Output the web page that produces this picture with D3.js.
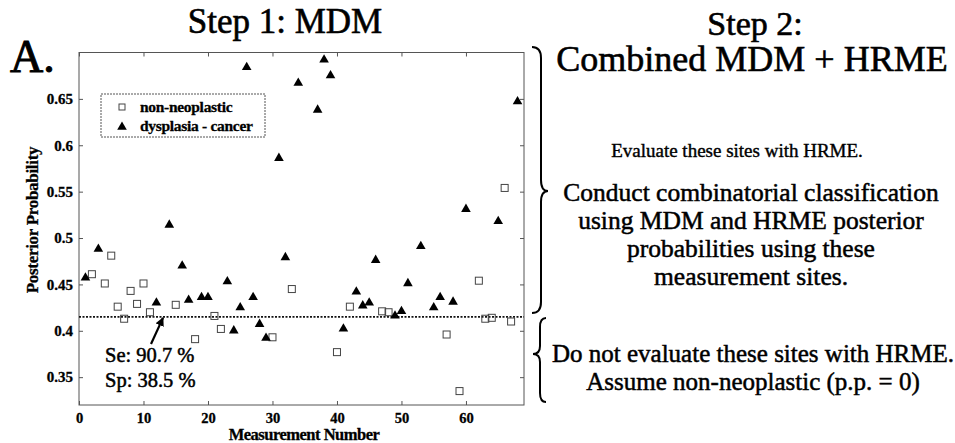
<!DOCTYPE html>
<html>
<head>
<meta charset="utf-8">
<script src="https://cdn.jsdelivr.net/npm/d3@7"></script>
<style>
  html, body { margin: 0; padding: 0; background: #fff; }
  svg { display: block; }
</style>
</head>
<body>
<svg id="chart" width="955" height="443"></svg>
<script>
// ---------- data ----------
const nonNeoX = [2, 4, 5, 6, 7, 8, 9, 10, 11, 15, 18, 21, 22, 30, 33, 40, 42, 47, 48, 57, 59, 62, 63, 64, 66, 67];
const nonNeoY = [0.461, 0.451, 0.481, 0.426, 0.413, 0.443, 0.429, 0.451, 0.420, 0.428, 0.391, 0.416, 0.402, 0.393, 0.445, 0.377, 0.426, 0.421, 0.420, 0.396, 0.335, 0.454, 0.413, 0.414, 0.554, 0.410];

const dysX = [1, 3, 12, 14, 16, 17, 19, 20, 23, 24, 25, 26, 27, 28, 29, 31, 32, 34, 37, 38, 39, 41, 43, 44, 45, 46, 49, 50, 51, 53, 55, 56, 58, 60, 65, 68];
const dysY = [0.458, 0.489, 0.431, 0.515, 0.471, 0.434, 0.437, 0.437, 0.454, 0.401, 0.426, 0.685, 0.437, 0.408, 0.393, 0.587, 0.480, 0.668, 0.639, 0.693, 0.676, 0.403, 0.443, 0.428, 0.431, 0.477, 0.417, 0.422, 0.452, 0.492, 0.426, 0.437, 0.432, 0.532, 0.519, 0.648];

const threshold = 0.415;
const xTicks = [0, 10, 20, 30, 40, 50, 60];
const yTicks = [0.35, 0.4, 0.45, 0.5, 0.55, 0.6, 0.65];
const yTickLabels = ["0.35", "0.4", "0.45", "0.5", "0.55", "0.6", "0.65"];
const seriesNames = ["non-neoplastic", "dysplasia - cancer"];

const step2Lines = ["Conduct combinatorial classification", "using MDM and HRME posterior", "probabilities using these", "measurement sites."];
const lowerLines = ["Do not evaluate these sites with HRME.", "Assume non-neoplastic (p.p. = 0)"];

// ---------- layout ----------
const FONT = "'Liberation Serif', 'Times New Roman', Tinos, 'DejaVu Serif', serif";
const svg = d3.select("#chart");
const L = 79, R = 524, T = 52.5, B = 405;
const x = d3.scaleLinear().domain([0, 69]).range([L, R]);
const y = d3.scaleLinear().domain([0.32, 0.70]).range([B, T]);

function txt(sel, heavy) {
  sel.style("font-family", FONT).attr("fill", "#000");
  if (heavy) sel.attr("stroke", "#000").attr("stroke-width", heavy).attr("paint-order", "stroke");
  return sel;
}

// frame
svg.append("rect").attr("x", L).attr("y", T).attr("width", R - L).attr("height", B - T)
  .attr("fill", "none").attr("stroke", "#555").attr("stroke-width", 1);

// axes (ticks inside)
const tickFmt = d => yTickLabels[yTicks.indexOf(d)];
const axL = svg.append("g").attr("transform", `translate(${L},0)`)
  .call(d3.axisLeft(y).tickValues(yTicks).tickSize(-4).tickPadding(6).tickFormat(tickFmt));
const axR = svg.append("g").attr("transform", `translate(${R},0)`)
  .call(d3.axisRight(y).tickValues(yTicks).tickSize(-4).tickFormat(""));
const axB = svg.append("g").attr("transform", `translate(0,${B})`)
  .call(d3.axisBottom(x).tickValues(xTicks).tickSize(-4).tickPadding(8).tickFormat(d3.format("d")));
const axT = svg.append("g").attr("transform", `translate(0,${T})`)
  .call(d3.axisTop(x).tickValues(xTicks).tickSize(-4).tickFormat(""));
[axL, axR, axB, axT].forEach(g => {
  g.select(".domain").remove();
  g.selectAll(".tick line").attr("stroke", "#555");
  txt(g.selectAll("text"), 0.3).attr("font-weight", "bold");
});
axL.selectAll("text").attr("font-size", 15);
axB.selectAll("text").attr("font-size", 14.5);

// threshold line
svg.append("line").attr("x1", L).attr("x2", R).attr("y1", y(threshold)).attr("y2", y(threshold))
  .attr("stroke", "#111").attr("stroke-width", 1.6).attr("stroke-dasharray", "2,1.5");

// markers
const tri = d3.symbol().type(d3.symbolTriangle).size(40);
const nonNeo = nonNeoX.map((v, i) => ({ x: v, y: nonNeoY[i] }));
const dys = dysX.map((v, i) => ({ x: v, y: dysY[i] }));

svg.append("g").selectAll("rect").data(nonNeo).join("rect")
  .attr("x", d => x(d.x) - 3.5).attr("y", d => y(d.y) - 3.5)
  .attr("width", 7).attr("height", 7)
  .attr("fill", "none").attr("stroke", "#444").attr("stroke-width", 1);

svg.append("g").selectAll("path").data(dys).join("path")
  .attr("transform", d => `translate(${x(d.x)},${y(d.y) + 0.8})`)
  .attr("d", tri).attr("fill", "#000");

// legend
const lg = svg.append("g");
lg.append("rect").attr("x", 101).attr("y", 94).attr("width", 164).attr("height", 43)
  .attr("fill", "#fff").attr("stroke", "#555").attr("stroke-width", 1).attr("stroke-dasharray", "2,1");
lg.append("rect").attr("x", 119).attr("y", 104).attr("width", 6).attr("height", 6)
  .attr("fill", "none").attr("stroke", "#444");
lg.append("path").attr("transform", "translate(122,127)").attr("d", tri).attr("fill", "#000");
txt(lg.selectAll("text").data(seriesNames).join("text"), 0.3)
  .attr("x", 140).attr("y", (d, i) => 112 + i * 19)
  .attr("font-size", 15.5).attr("font-weight", "bold").attr("letter-spacing", -0.3)
  .text(d => d);

// annotation arrow + Se/Sp
const defs = svg.append("defs");
defs.append("marker").attr("id", "ah").attr("viewBox", "0 0 10 10").attr("refX", 9).attr("refY", 5)
  .attr("markerWidth", 4).attr("markerHeight", 4).attr("orient", "auto")
  .append("path").attr("d", "M0,0 L10,5 L0,10 z").attr("fill", "#000");
svg.append("line").attr("x1", 151).attr("y1", 344).attr("x2", 163).attr("y2", y(threshold) + 1)
  .attr("stroke", "#000").attr("stroke-width", 2.2).attr("marker-end", "url(#ah)");
txt(svg.append("text"), 0.5).attr("x", 105).attr("y", 362).attr("font-size", 20.5).text("Se: 90.7 %");
txt(svg.append("text"), 0.5).attr("x", 105).attr("y", 387).attr("font-size", 20.5).text("Sp: 38.5 %");

// axis titles
txt(svg.append("text"), 0.3).attr("x", 304).attr("y", 440).attr("text-anchor", "middle")
  .attr("font-size", 16.5).attr("font-weight", "bold").attr("letter-spacing", -0.5).text("Measurement Number");
txt(svg.append("text"), 0.3).attr("transform", "translate(38,220) rotate(-90)").attr("text-anchor", "middle")
  .attr("font-size", 17).attr("font-weight", "bold").attr("letter-spacing", -0.3).text("Posterior Probability");

// titles
txt(svg.append("text"), 1).attr("x", 10).attr("y", 72).attr("font-size", 46).text("A.");
txt(svg.append("text"), 0.6).attr("x", 285).attr("y", 33).attr("text-anchor", "middle").attr("font-size", 35).text("Step 1: MDM");
txt(svg.append("text"), 0.6).attr("x", 755).attr("y", 35).attr("text-anchor", "middle").attr("font-size", 34).text("Step 2:");
txt(svg.append("text"), 0.6).attr("x", 752).attr("y", 71).attr("text-anchor", "middle").attr("font-size", 36).text("Combined MDM + HRME");
txt(svg.append("text"), 0.4).attr("x", 737).attr("y", 157).attr("text-anchor", "middle").attr("font-size", 19).text("Evaluate these sites with HRME.");
txt(svg.selectAll("text.s2").data(step2Lines).join("text").attr("class", "s2"), 0.5)
  .attr("x", 751).attr("y", (d, i) => 201 + i * 28).attr("text-anchor", "middle").attr("font-size", 25.5).text(d => d);
txt(svg.selectAll("text.lo").data(lowerLines).join("text").attr("class", "lo"), 0.5)
  .attr("x", 753).attr("y", (d, i) => 362 + i * 28).attr("text-anchor", "middle").attr("font-size", 25).text(d => d);

// braces
svg.append("path")
  .attr("d", "M532,47 Q541,47 541,58 L541,180 Q541,191 548,191 Q541,191 541,202 L541,302 Q541,313 532,313")
  .attr("fill", "none").attr("stroke", "#000").attr("stroke-width", 2);
svg.append("path")
  .attr("d", "M546,318 Q540,318 540,327 L540,346 Q540,354 533,354 Q540,354 540,362 L540,393 Q540,402 546,402")
  .attr("fill", "none").attr("stroke", "#000").attr("stroke-width", 2);
</script>
</body>
</html>
